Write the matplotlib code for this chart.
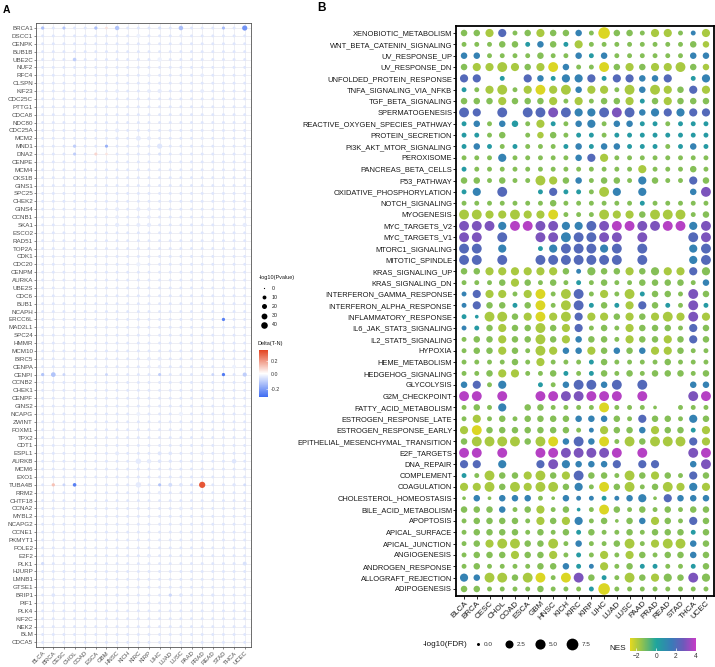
import matplotlib
matplotlib.use("Agg")
import matplotlib.pyplot as plt
from matplotlib.colors import LinearSegmentedColormap, TwoSlopeNorm, Normalize
from matplotlib.cm import ScalarMappable
import numpy as np

plt.rcParams['font.family'] = ['Liberation Sans', 'DejaVu Sans']

# ---------------- data ----------------
cancers = ["BLCA", "BRCA", "CESC", "CHOL", "COAD", "ESCA", "GBM", "HNSC", "KICH", "KIRC",
           "KIRP", "LIHC", "LUAD", "LUSC", "PAAD", "PRAD", "READ", "STAD", "THCA", "UCEC"]

genes = ["BRCA1", "DSCC1", "CENPK", "BUB1B", "UBE2C", "NUF2", "RFC4", "CLSPN", "KIF23", "CDC25C",
         "PTTG1", "CDCA8", "NDC80", "CDC25A", "MCM2", "MND1", "DNA2", "CENPE", "MCM4", "CKS1B",
         "GINS1", "SPC25", "CHEK2", "GINS4", "CCNB1", "SKA1", "ESCO2", "RAD51", "TOP2A", "CDK1",
         "CDC20", "CENPM", "AURKA", "UBE2S", "CDC6", "BUB1", "NCAPH", "ERCC6L", "MAD2L1", "SPC24",
         "HMMR", "MCM10", "BIRC5", "CENPA", "CENPI", "CCNB2", "CHEK1", "CENPF", "GINS2", "NCAPG",
         "ZWINT", "FOXM1", "TPX2", "CDT1", "ESPL1", "AURKB", "MCM6", "EXO1", "TUBA4B", "RRM2",
         "CHTF18", "CCNA2", "MYBL2", "NCAPG2", "CCNE1", "PKMYT1", "POLE2", "E2F2", "PLK1", "HJURP",
         "LMNB1", "GTSE1", "BRIP1", "PIF1", "PLK4", "KIF2C", "NEK2", "BLM", "CDCA5"]

# panel A: most cells are faint small dots; the visible ones are listed below
bg_pvalue = 4.0
bg_delta = -0.05
# (gene, cancer, -log10(Pvalue), Delta(T-N))
a_points = [
    ("BRCA1", "BLCA", 6, -0.13), ("BRCA1", "CESC", 5, -0.12), ("BRCA1", "ESCA", 6, -0.13),
    ("BRCA1", "GBM", 3, 0.06), ("BRCA1", "HNSC", 14, -0.12), ("BRCA1", "LIHC", 5, -0.06),
    ("BRCA1", "LUSC", 15, -0.13), ("BRCA1", "STAD", 5, -0.14), ("BRCA1", "UCEC", 22, -0.22),
    ("DSCC1", "KIRC", 10, -0.03), ("DSCC1", "LUSC", 6, -0.04),
    ("UBE2C", "CHOL", 8, -0.10), ("UBE2C", "LIHC", 14, -0.03),
    ("RFC4", "KIRP", 6, -0.04), ("RFC4", "PRAD", 8, -0.04),
    ("KIF23", "HNSC", 8, -0.04), ("KIF23", "KIRP", 9, -0.04), ("KIF23", "LIHC", 12, -0.04),
    ("KIF23", "PRAD", 9, -0.04),
    ("CDC25A", "HNSC", 10, -0.04),
    ("MCM2", "HNSC", 6, -0.05), ("MCM2", "KIRC", 18, -0.04), ("MCM2", "KIRP", 10, -0.04),
    ("MCM2", "PRAD", 6, -0.04),
    ("MND1", "CHOL", 6, -0.10), ("MND1", "GBM", 5, -0.16), ("MND1", "LIHC", 22, -0.05),
    ("DNA2", "CHOL", 5, -0.10), ("DNA2", "ESCA", 5, 0.08), ("DNA2", "GBM", 3, 0.05),
    ("DNA2", "LIHC", 5, -0.06),
    ("GINS4", "HNSC", 10, -0.04), ("GINS4", "KIRC", 10, -0.04), ("GINS4", "KIRP", 8, -0.04),
    ("GINS4", "UCEC", 10, -0.04),
    ("CCNB1", "HNSC", 8, -0.04), ("CCNB1", "KIRP", 8, -0.04),
    ("SKA1", "HNSC", 12, -0.04), ("SKA1", "KIRC", 10, -0.04), ("SKA1", "KIRP", 12, -0.04),
    ("SKA1", "UCEC", 12, -0.04),
    ("CDC20", "KIRC", 12, -0.03),
    ("ERCC6L", "STAD", 6, -0.26),
    ("BIRC5", "KIRP", 9, -0.04), ("BIRC5", "LIHC", 10, -0.04),
    ("CENPA", "KIRP", 6, -0.04), ("CENPA", "LIHC", 8, -0.04), ("CENPA", "THCA", 10, -0.03),
    ("CENPI", "BLCA", 6, -0.12), ("CENPI", "BRCA", 17, -0.12), ("CENPI", "CESC", 4, -0.08),
    ("CENPI", "GBM", 4, -0.08), ("CENPI", "LIHC", 5, -0.10), ("CENPI", "READ", 4, -0.08),
    ("CENPI", "STAD", 6, -0.27), ("CENPI", "UCEC", 12, -0.10),
    ("NCAPG", "KIRC", 10, -0.03), ("NCAPG", "LUSC", 12, -0.03),
    ("ESPL1", "HNSC", 10, -0.04), ("ESPL1", "LIHC", 10, -0.05), ("ESPL1", "LUAD", 8, -0.05),
    ("ESPL1", "PRAD", 8, -0.04),
    ("AURKB", "KIRC", 25, -0.04), ("AURKB", "KIRP", 14, -0.04), ("AURKB", "LIHC", 8, -0.05),
    ("AURKB", "LUAD", 6, -0.05), ("AURKB", "THCA", 15, -0.05),
    ("TUBA4B", "BRCA", 6, 0.12), ("TUBA4B", "CESC", 4, -0.08), ("TUBA4B", "CHOL", 8, -0.26),
    ("TUBA4B", "HNSC", 5, -0.05), ("TUBA4B", "KIRC", 25, -0.04), ("TUBA4B", "LIHC", 5, -0.12),
    ("TUBA4B", "LUAD", 10, -0.07), ("TUBA4B", "LUSC", 8, -0.05), ("TUBA4B", "PAAD", 4, -0.08),
    ("TUBA4B", "PRAD", 35, 0.33), ("TUBA4B", "THCA", 6, -0.05), ("TUBA4B", "UCEC", 4, -0.07),
    ("RRM2", "LIHC", 8, -0.04), ("CCNA2", "LUSC", 8, -0.04), ("E2F2", "KIRP", 9, -0.04),
    ("PLK1", "BLCA", 6, -0.07), ("PLK1", "UCEC", 10, -0.06),
    ("BRIP1", "BRCA", 8, -0.05), ("BRIP1", "HNSC", 6, -0.05), ("BRIP1", "LUAD", 6, -0.08),
    ("BRIP1", "LUSC", 8, -0.05), ("BRIP1", "READ", 6, -0.05),
]
pval_legend = [0, 10, 20, 30, 40]

# panel B: letter = NES level, digit = -log10(FDR) level, ".." = not shown
hallmarks = ["XENOBIOTIC_METABOLISM", "WNT_BETA_CATENIN_SIGNALING", "UV_RESPONSE_UP",
             "UV_RESPONSE_DN", "UNFOLDED_PROTEIN_RESPONSE", "TNFA_SIGNALING_VIA_NFKB",
             "TGF_BETA_SIGNALING", "SPERMATOGENESIS", "REACTIVE_OXYGEN_SPECIES_PATHWAY",
             "PROTEIN_SECRETION", "PI3K_AKT_MTOR_SIGNALING", "PEROXISOME", "PANCREAS_BETA_CELLS",
             "P53_PATHWAY", "OXIDATIVE_PHOSPHORYLATION", "NOTCH_SIGNALING", "MYOGENESIS",
             "MYC_TARGETS_V2", "MYC_TARGETS_V1", "MTORC1_SIGNALING", "MITOTIC_SPINDLE",
             "KRAS_SIGNALING_UP", "KRAS_SIGNALING_DN", "INTERFERON_GAMMA_RESPONSE",
             "INTERFERON_ALPHA_RESPONSE", "INFLAMMATORY_RESPONSE", "IL6_JAK_STAT3_SIGNALING",
             "IL2_STAT5_SIGNALING", "HYPOXIA", "HEME_METABOLISM", "HEDGEHOG_SIGNALING",
             "GLYCOLYSIS", "G2M_CHECKPOINT", "FATTY_ACID_METABOLISM", "ESTROGEN_RESPONSE_LATE",
             "ESTROGEN_RESPONSE_EARLY", "EPITHELIAL_MESENCHYMAL_TRANSITION", "E2F_TARGETS",
             "DNA_REPAIR", "COMPLEMENT", "COAGULATION", "CHOLESTEROL_HOMEOSTASIS",
             "BILE_ACID_METABOLISM", "APOPTOSIS", "APICAL_SURFACE", "APICAL_JUNCTION",
             "ANGIOGENESIS", "ANDROGEN_RESPONSE", "ALLOGRAFT_REJECTION", "ADIPOGENESIS"]

gsea_cells = [
    "G2 G2 L3 S3 G1 G2 L3 G2 G2 B2 G1 Y5 G2 G2 G1 L3 L3 G1 B1 L3",
    "G1 G1 G1 G2 G2 T1 B2 G2 T1 L3 G1 G1 G1 G1 G1 G1 G1 G1 G2 L2",
    "B2 B2 G1 G1 G1 G1 G2 G1 G1 B2 T1 B2 G1 G1 G1 G1 G1 G1 B2 B2",
    "G2 L3 L3 L4 L3 G2 L3 Y4 B2 G1 G1 Y4 G2 L3 G2 L3 L3 L4 G2 L2",
    "S3 S3 .. T1 .. S3 B2 T1 B3 B3 S3 T1 S3 S3 B2 B2 S3 .. T1 B3",
    "T1 G1 L3 L4 G1 L3 Y4 L3 L4 B2 L3 L3 G1 L4 B2 L4 L3 G2 S3 L3",
    "G2 G2 G2 L3 G2 G2 G2 L3 G1 L3 G1 G2 G2 L3 T1 G2 L3 G2 G2 G2",
    "S4 S3 .. S4 .. S4 S4 P4 S4 B3 B3 S4 P4 S4 B2 B3 S3 B3 S3 S3",
    "T1 B2 G1 B2 T2 G1 L3 T1 G1 B2 B3 G1 B2 B2 T1 T1 G1 T1 T1 T1",
    "T1 T1 G1 G2 .. G1 L2 G2 G1 T1 T1 G1 T1 T1 T1 T1 T1 T1 T1 T1",
    "T1 B2 T1 G1 T1 G1 G1 G1 T1 B2 T1 B2 B2 T1 T1 T1 G1 T1 B2 T1",
    "G1 G1 G1 B3 G1 G1 G1 G1 G1 B2 S3 L3 G1 G1 G1 G1 G1 G1 G1 G1",
    "T1 G1 G1 G1 G1 G1 G1 G1 G1 G1 G1 G1 G1 G1 L3 G1 G1 G1 G2 G1",
    "G2 G2 G1 G2 G1 G1 L4 L3 G2 B2 G1 G2 G2 G1 B3 G2 G1 G1 S3 G2",
    "T1 B3 .. S4 .. .. T1 S3 T1 T1 G1 L4 B3 .. B3 .. .. .. B2 P4",
    "G1 G1 G1 G1 G1 G1 G1 G2 G1 G1 G1 G1 G1 G1 T1 G1 G1 G1 G1 G1",
    "L4 L4 L3 L3 L4 L3 L3 Y4 G1 G1 G1 L4 L3 L3 G2 L4 L4 L4 G1 G2",
    "P4 P4 P4 B3 M4 M4 P4 P4 B3 B3 S4 P4 M4 M4 P4 P4 M4 M4 B3 P4",
    "P4 P4 .. S4 .. .. P4 P4 B4 S4 S4 P4 P4 .. P4 .. .. .. S4 P4",
    "S4 S4 .. B3 .. .. T1 B3 S4 S4 S4 B3 S4 .. S4 .. .. .. B3 S4",
    "S4 S4 .. S4 .. .. S4 S4 S4 S4 S4 S4 S4 .. S4 .. .. .. B3 S4",
    "G2 G2 L3 L3 L3 L3 L3 L3 G2 B1 G3 G2 G2 L3 G2 G3 L3 L3 S3 G3",
    "G1 G1 G1 G2 L3 G2 G1 G2 G1 T1 G1 G2 G1 G1 G2 G2 G2 G2 G1 B2",
    "B1 S3 L3 L3 G1 L3 Y4 G1 L4 S4 G1 L3 G1 L4 T1 G2 G2 G1 P4 G2",
    "B1 S3 G2 G2 T1 G2 Y4 G1 L4 S4 T1 G2 T1 L3 S3 G2 T1 G1 P4 T1",
    "T1 T0 L4 L4 G2 L3 Y4 L3 L4 S3 L3 L3 G2 L3 G2 L3 L4 L3 P4 L3",
    "B1 T1 G2 L3 G2 G2 L4 G2 L3 S3 G1 G2 G1 L3 G2 G2 G2 G1 S3 G2",
    "G1 G2 G2 L3 G2 G2 L4 G2 L3 B2 G2 G2 G1 L3 G2 G2 L3 G2 S3 G2",
    "G1 G2 G2 L3 G2 G1 L4 L3 B2 B2 L3 G2 B2 G2 B2 L3 L3 G2 G1 G1",
    "G1 G1 G1 G1 G2 G1 L3 G1 G1 G1 T1 G2 G1 G1 G1 G1 G2 G1 G1 G1",
    "G1 G1 G2 L3 L3 G1 G1 G2 T1 G1 T1 G2 G1 G2 G1 G2 G2 G2 G1 G2",
    "B2 S3 G1 B3 .. .. T1 G1 B2 S4 S4 B2 S4 .. S4 .. .. .. B2 B2",
    "M4 M4 .. M4 .. .. M4 M4 P4 P4 M4 M4 M4 .. M4 .. .. .. P4 M4",
    "G1 G2 G1 B3 .. G2 G2 G1 G1 G1 G1 Y4 G1 G1 G1 G0 .. G1 G1 G1",
    "G1 L3 G1 G2 G1 G2 G2 G2 G2 B2 B2 B2 G2 G1 S3 G2 G2 G1 B3 G2",
    "L3 Y4 G2 G2 G2 G2 G2 G2 G2 G1 B1 L3 G2 G2 B2 L3 G2 G2 T1 L3",
    "G2 L4 L4 L4 L4 G2 L4 Y4 B2 S4 B2 Y4 G1 L4 G2 L4 L4 L4 S3 L3",
    "M4 M4 .. M4 .. .. M4 M4 P4 P4 P4 P4 M4 .. M4 .. .. .. P4 M4",
    "S3 S3 .. B3 .. .. S3 P4 B3 B2 B2 B2 S3 .. S3 S3 .. .. B2 P4",
    "T1 G1 L4 G2 G2 L3 L4 G2 L3 S4 G2 G2 G1 L4 G2 L3 G2 G1 S3 G2",
    "L3 L3 L4 G2 L4 L3 L4 L4 G2 B3 G1 Y4 G2 L4 G1 G2 L4 L3 B3 L3",
    "G0 B2 G0 B2 B2 B2 G1 G0 B2 B1 B1 T1 B1 B2 B3 G0 S3 B2 B2 B2",
    "G2 G2 G2 B2 G1 G2 L3 G1 G2 T0 G1 Y4 G2 G1 G2 G1 G2 G1 G2 G2",
    "G1 G2 G2 G2 G2 G1 L3 G2 L3 B3 G1 G2 G0 G2 B2 L3 G2 G1 S3 G2",
    "G1 G2 G2 G2 G2 G1 G2 G1 G2 T1 G2 G1 G1 G2 G1 G2 G2 G2 T1 G2",
    "G1 G2 L3 L4 L4 G2 G2 L4 G1 B2 G1 G1 G2 L4 G1 L3 L4 L4 B2 G2",
    "G1 G2 G2 G2 L3 G2 G2 L3 G1 T1 G1 L3 G1 L3 G2 G1 G2 G2 B2 G2",
    "G1 G2 G1 G1 G1 G1 G2 G2 B2 T1 B1 L3 G1 G2 T1 T1 G1 G1 T1 G2",
    "B3 B2 L4 L4 G2 L4 Y4 G1 Y4 P4 G2 T1 G1 L4 G2 L3 G3 G2 P4 G3",
    "G2 G2 G1 G1 G1 G1 G2 G1 G1 G1 T1 Y5 G1 G1 G1 G1 G1 G1 G1 G1",
]
nes_level = {"Y": -2.5, "L": -1.8, "G": -1.3, "T": 0.4, "B": 1.3, "S": 2.2, "P": 3.0, "M": 3.8}
fdr_level = {"0": 0.05, "1": 0.35, "2": 1.2, "3": 2.6, "4": 4.6, "5": 7.2}
fdr_legend = [0.0, 2.5, 5.0, 7.5]
nes_ticks = [-2, 0, 2, 4]

# ---------------- figure ----------------
W, H = 715, 667
fig = plt.figure(figsize=(W / 100, H / 100), dpi=100)
PT = 72 / 100


def px_axes(x0, y0, x1, y1):
    return fig.add_axes([x0 / W, 1 - y1 / H, (x1 - x0) / W, (y1 - y0) / H])


def area(d_px):
    return (np.asarray(d_px) * PT) ** 2


def size_a(v):
    return 1.2 + 0.85 * np.sqrt(v)


def size_b(v):
    return 3.0 + 3.2 * np.sqrt(v)


cmap_a = LinearSegmentedColormap.from_list("delta", ["#3E6CF2", "#FFFFFF", "#E3431F"])
norm_a = TwoSlopeNorm(vmin=-0.30, vcenter=0.0, vmax=0.37)

nes_min, nes_max = -2.65, 4.05
stops = [(-2.65, "#E4D81F"), (-1.4, "#8CC152"), (0.0, "#1FA59C"),
         (1.6, "#3A7AB8"), (2.8, "#6E59BA"), (4.05, "#C63CC6")]
cmap_b = LinearSegmentedColormap.from_list(
    "nes", [((v - nes_min) / (nes_max - nes_min), c) for v, c in stops])
norm_b = Normalize(nes_min, nes_max)

# --- panel A ---
ax_a = px_axes(36.3, 23.3, 251.1, 647.1)
n_g, n_c = len(genes), len(cancers)
p_mat = np.full((n_g, n_c), bg_pvalue)
d_mat = np.full((n_g, n_c), bg_delta)
for g, c, p, d in a_points:
    p_mat[genes.index(g), cancers.index(c)] = p
    d_mat[genes.index(g), cancers.index(c)] = d
xx, yy = np.meshgrid(np.arange(n_c), np.arange(n_g))
order = np.argsort(p_mat.ravel())
ax_a.scatter(xx.ravel()[order], yy.ravel()[order], s=area(size_a(p_mat.ravel()[order])),
             c=d_mat.ravel()[order], cmap=cmap_a, norm=norm_a, linewidths=0, zorder=3)
ax_a.set_xlim(-0.6, n_c - 0.4)
ax_a.set_ylim(n_g - 0.4, -0.6)
ax_a.set_xticks(range(n_c))
ax_a.set_xticklabels(cancers, rotation=45, ha='right', rotation_mode='anchor',
                     fontsize=4.3, color='#4D4D4D')
ax_a.set_yticks(range(n_g))
ax_a.set_yticklabels(genes, fontsize=4.5, color='#4D4D4D')
ax_a.tick_params(length=1.5, width=0.4, color='#333333', pad=0.8)
ax_a.grid(True, color='#E8E8EE', linewidth=0.5, zorder=0)
ax_a.set_axisbelow(True)
for sp in ax_a.spines.values():
    sp.set_color('#555555')
    sp.set_linewidth(0.6)

# --- panel B ---
ax_b = px_axes(456.4, 26.2, 713.6, 595.8)
bx, by, bn, bf = [], [], [], []
for i, row in enumerate(gsea_cells):
    for j, tok in enumerate(row.split()):
        if tok == "..":
            continue
        bx.append(j)
        by.append(i)
        bn.append(nes_level[tok[0]])
        bf.append(fdr_level[tok[1]])
ax_b.scatter(bx, by, s=area(size_b(np.array(bf))), c=bn, cmap=cmap_b, norm=norm_b,
             linewidths=0, zorder=3)
ax_b.set_xlim(-0.6, n_c - 0.4)
ax_b.set_ylim(len(hallmarks) - 0.4, -0.6)
ax_b.set_xticks(range(n_c))
ax_b.set_xticklabels(cancers, rotation=45, ha='right', rotation_mode='anchor',
                     fontsize=5.8, color='#1A1A1A')
ax_b.set_yticks(range(len(hallmarks)))
ax_b.set_yticklabels(hallmarks, fontsize=5.4, color='#1A1A1A')
ax_b.tick_params(length=2, width=0.6, color='black', pad=1)
for sp in ax_b.spines.values():
    sp.set_color('black')
    sp.set_linewidth(1.3)

# --- overlay for panel tags and legends ---
lg = fig.add_axes([0, 0, 1, 1])
lg.set_xlim(0, W)
lg.set_ylim(H, 0)
lg.axis('off')
lg.text(3, 10, "A", fontsize=7.5, fontweight='bold', ha='left', va='center')
lg.text(317, 8, "B", fontsize=8.5, fontweight='bold', ha='left', va='center')

# A legend: size
lg.text(259, 277, "-log10(Pvalue)", fontsize=4, ha='left', va='center', color='#1A1A1A')
for k, v in enumerate(pval_legend):
    y = 288 + k * 9.2
    lg.scatter(264, y, s=area(size_a(v)), c='black', linewidths=0)
    lg.text(272, y, str(v), fontsize=3.8, ha='left', va='center', color='#1A1A1A')
lg.text(258, 344, "Delta(T-N)", fontsize=4, ha='left', va='center', color='#1A1A1A')
cax_a = px_axes(259, 350, 268, 397)
cb_a = fig.colorbar(ScalarMappable(norm=norm_a, cmap=cmap_a), cax=cax_a)
cb_a.set_ticks([-0.2, 0.0, 0.2])
cb_a.set_ticklabels(["-0.2", "0.0", "0.2"])
cb_a.outline.set_visible(False)
cax_a.tick_params(labelsize=3.8, length=1.5, width=0.4, color='white', direction='in',
                  pad=2, labelcolor='#333333')

# B legend: size
lg.text(467, 644, "-log10(FDR)", fontsize=5.9, ha='right', va='center', color='#1A1A1A')
for x, v in zip([478, 509, 540, 572], fdr_legend):
    lg.scatter(x, 644, s=area(size_b(v)), c='black', linewidths=0)
    lg.text(x + size_b(v) / 2 + 4, 644, f"{v:.1f}", fontsize=4.6, ha='left', va='center',
            color='#333333')
lg.text(609, 649, "NES", fontsize=5.9, ha='left', va='center', color='#1A1A1A')
cax_b = px_axes(630, 638, 696, 651)
cb_b = fig.colorbar(ScalarMappable(norm=norm_b, cmap=cmap_b), cax=cax_b, orientation='horizontal')
cb_b.set_ticks(nes_ticks)
cb_b.outline.set_visible(False)
cax_b.tick_params(labelsize=4.8, length=2, width=0.5, color='white', direction='in',
                  pad=1.5, labelcolor='#333333')

fig.savefig("out.png", dpi=100)
